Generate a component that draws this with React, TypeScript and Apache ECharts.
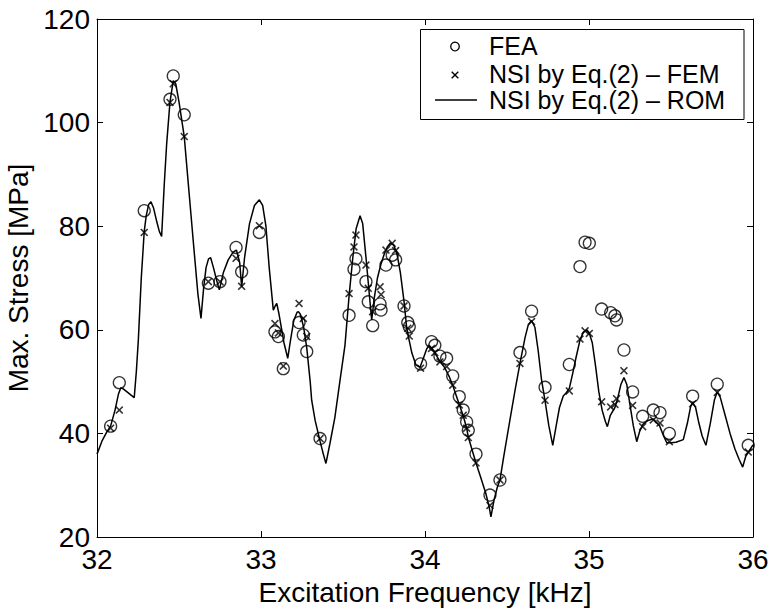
import React, { useEffect, useRef } from "react";
import * as echarts from "echarts";

// Sample frequencies (kHz) shared by FEA and FEM-based NSI results
const freqX = [
  32.083, 32.136, 32.288, 32.445, 32.465, 32.532, 32.679, 32.75, 32.848, 32.882,
  32.99, 33.085, 33.106, 33.136, 33.232, 33.258, 33.279, 33.36, 33.537, 33.567,
  33.579, 33.64, 33.654, 33.681, 33.726, 33.732, 33.762, 33.8, 33.821, 33.872,
  33.895, 33.904, 33.973, 34.04, 34.06, 34.091, 34.132, 34.169, 34.209, 34.233,
  34.254, 34.264, 34.311, 34.396, 34.457, 34.579, 34.65, 34.732, 34.88, 34.945,
  34.976, 35.002, 35.077, 35.132, 35.158, 35.168, 35.213, 35.266, 35.327, 35.392,
  35.433, 35.49, 35.632, 35.782, 35.971,
];
const feaY = [
  41.4, 49.8, 83.0, 104.5, 109.0, 101.5, 69.0, 69.3, 75.9, 71.2,
  78.8, 59.6, 58.7, 52.5, 61.4, 59.0, 55.8, 39.0, 62.8, 71.7,
  73.7, 69.3, 65.4, 60.8, 65.0, 63.8, 72.5, 74.4, 73.5, 64.6,
  61.4, 60.6, 53.4, 57.7, 57.0, 54.9, 54.5, 51.1, 47.1, 44.5,
  42.2, 40.6, 36.0, 28.1, 31.0, 55.6, 63.6, 48.9, 53.3, 72.2,
  76.9, 76.7, 64.0, 63.3, 62.7, 61.9, 56.1, 48.0, 43.3, 44.5,
  44.0, 40.0, 47.2, 49.5, 37.7,
];
const femY = [
  41.0, 44.5, 78.8, 103.9, 107.5, 97.3, 69.3, 69.3, 73.8, 68.4,
  80.1, 61.2, 59.4, 53.0, 65.1, 62.2, 58.7, 39.0, 67.0, 76.0,
  78.3, 72.5, 68.0, 63.5, 68.3, 66.8, 75.4, 76.7, 75.3, 64.6,
  60.3, 58.8, 52.6, 56.4, 55.6, 53.8, 52.9, 49.3, 45.5, 43.5,
  41.0, 39.2, 34.3, 26.1, 31.0, 53.5, 61.6, 46.4, 48.2, 58.2,
  59.8, 59.3, 46.1, 45.1, 45.6, 46.7, 52.1, 45.4, 41.3, 42.6,
  42.0, 38.4, 45.7, 47.9, 36.4,
];

// ROM curve
const romX = [
  32.0, 32.03, 32.06, 32.083, 32.11, 32.13, 32.145, 32.16, 32.227, 32.24,
  32.252, 32.27, 32.288, 32.3, 32.315, 32.329, 32.345, 32.365, 32.38, 32.394,
  32.41, 32.425, 32.445, 32.465, 32.48, 32.5, 32.532, 32.56, 32.59, 32.615,
  32.634, 32.65, 32.665, 32.68, 32.693, 32.71, 32.73, 32.746, 32.77, 32.8,
  32.83, 32.85, 32.87, 32.882, 32.9, 32.93, 32.96, 32.99, 33.01, 33.03,
  33.05, 33.075, 33.085, 33.096, 33.11, 33.14, 33.163, 33.18, 33.2, 33.22,
  33.228, 33.24, 33.26, 33.279, 33.3, 33.309, 33.33, 33.36, 33.38, 33.396,
  33.42, 33.45, 33.482, 33.512, 33.537, 33.56, 33.58, 33.604, 33.62, 33.64,
  33.66, 33.675, 33.69, 33.71, 33.73, 33.75, 33.77, 33.79, 33.81, 33.83,
  33.85, 33.872, 33.888, 33.9, 33.92, 33.945, 33.97, 33.99, 34.01, 34.025,
  34.04, 34.06, 34.09, 34.12, 34.15, 34.17, 34.21, 34.233, 34.254, 34.264,
  34.29, 34.311, 34.34, 34.37, 34.39, 34.402, 34.42, 34.44, 34.457, 34.48,
  34.52, 34.55, 34.579, 34.61, 34.63, 34.65, 34.67, 34.69, 34.71, 34.732,
  34.755, 34.779, 34.8, 34.82, 34.843, 34.86, 34.88, 34.9, 34.92, 34.945,
  34.965, 34.986, 35.0, 35.02, 35.04, 35.06, 35.08, 35.1, 35.112, 35.13,
  35.158, 35.175, 35.195, 35.213, 35.23, 35.25, 35.27, 35.291, 35.31, 35.33,
  35.36, 35.392, 35.43, 35.455, 35.474, 35.5, 35.53, 35.575, 35.6, 35.62,
  35.632, 35.65, 35.67, 35.69, 35.713, 35.74, 35.765, 35.782, 35.8, 35.83,
  35.86, 35.89, 35.915, 35.937, 35.955, 35.97, 35.99, 36.0,
];
const romY = [
  36.0, 38.5, 40.3, 41.4, 44.5, 47.5, 48.8, 48.6, 46.9, 52.0,
  58.0, 70.0, 79.0, 82.0, 84.2, 84.7, 83.5, 80.8, 79.0, 78.0,
  88.0, 96.0, 104.0, 108.1, 107.5, 104.0, 97.3, 87.0, 76.0, 67.0,
  62.2, 68.0, 72.0, 73.7, 73.9, 72.0, 69.5, 67.7, 71.0, 73.5,
  75.0, 75.4, 73.0, 68.3, 74.0, 80.5, 84.0, 85.1, 84.0, 80.0,
  72.0, 63.8, 64.5, 65.1, 63.0, 57.5, 54.5, 58.0, 61.8, 63.4,
  63.5, 63.0, 60.5, 56.5, 50.0, 46.4, 42.5, 38.5, 36.0, 34.2,
  38.0, 43.0, 50.3, 57.0, 66.5, 74.0, 79.5, 82.0, 80.5, 74.0,
  67.0, 61.9, 66.0, 70.0, 72.5, 74.5, 76.0, 76.8, 76.3, 74.5,
  71.0, 65.5, 60.5, 58.5, 55.5, 53.2, 52.8, 54.5, 56.3, 57.0,
  56.5, 55.5, 54.0, 52.7, 50.8, 49.2, 45.5, 43.4, 41.0, 39.3,
  36.5, 34.3, 31.5, 28.5, 26.0, 23.9, 27.0, 29.5, 31.0, 35.5,
  43.0, 48.5, 53.5, 58.5, 61.0, 61.8, 60.5, 56.0, 50.5, 46.3,
  41.5, 37.7, 41.5, 45.0, 47.2, 47.8, 48.7, 51.5, 54.5, 58.0,
  59.5, 60.0, 59.5, 57.5, 53.0, 48.0, 44.5, 42.3, 41.3, 43.5,
  45.0, 46.8, 49.5, 50.8, 49.5, 45.5, 41.5, 38.4, 40.5, 41.8,
  42.5, 42.8, 41.5, 39.5, 38.2, 38.2, 38.3, 38.8, 42.0, 45.2,
  46.0, 45.0, 42.0, 39.5, 37.7, 42.0, 46.5, 48.0, 47.0, 43.5,
  40.0, 37.0, 35.0, 33.5, 35.5, 36.3, 37.3, 37.8,
];

const xTicks = [32, 33, 34, 35, 36];
const yTicks = [20, 40, 60, 80, 100, 120];
const legendLabels = ["FEA", "NSI by Eq.(2) \u2013 FEM", "NSI by Eq.(2) \u2013 ROM"];

const FONT = "Liberation Sans, Arial, Helvetica, sans-serif";
const CROSS =
  "path://M0,1.4L1.4,0L5,3.6L8.6,0L10,1.4L6.4,5L10,8.6L8.6,10L5,6.4L1.4,10L0,8.6L3.6,5Z";

export default function App() {
  const ref = useRef<HTMLDivElement>(null);
  useEffect(() => {
    document.body.style.margin = "0";
    if (!ref.current) return;
    const chart = echarts.init(ref.current, undefined, { renderer: "svg" });
    const axisLine = { show: true, lineStyle: { color: "#000", width: 1 } };
    const tick = { show: true, inside: true, length: 6, lineStyle: { color: "#000", width: 1 } };
    const label = { color: "#000", fontSize: 28, fontFamily: FONT };
    const fea = freqX.map((x, i) => [x, feaY[i]]);
    const fem = freqX.map((x, i) => [x, femY[i]]);
    const rom = romX.map((x, i) => [x, romY[i]]);
    const lx = 420.5, ly = 29.5;
    chart.setOption({
      animation: false,
      backgroundColor: "#fff",
      grid: {
        left: 97, right: 19, top: 19, bottom: 73, show: false,
        containLabel: false, outerBoundsMode: "none",
      },
      xAxis: [
        {
          type: "value", min: xTicks[0], max: xTicks[xTicks.length - 1], interval: 1,
          position: "bottom", axisLine, axisTick: tick, splitLine: { show: false },
          axisLabel: { ...label, margin: 8 },
          name: "Excitation Frequency [kHz]", nameLocation: "middle", nameGap: 41,
          nameTextStyle: { color: "#000", fontSize: 28, fontFamily: FONT },
        },
        {
          type: "value", min: xTicks[0], max: xTicks[xTicks.length - 1], interval: 1,
          position: "top", axisLine, axisTick: tick, axisLabel: { show: false },
          splitLine: { show: false },
        },
      ],
      yAxis: [
        {
          type: "value", min: yTicks[0], max: yTicks[yTicks.length - 1], interval: 20,
          position: "left", axisLine, axisTick: tick, splitLine: { show: false },
          axisLabel: { ...label, margin: 7 },
          name: "Max. Stress [MPa]", nameLocation: "middle", nameGap: 58,
          nameTextStyle: { color: "#000", fontSize: 28, fontFamily: FONT },
        },
        {
          type: "value", min: yTicks[0], max: yTicks[yTicks.length - 1], interval: 20,
          position: "right", axisLine, axisTick: tick, axisLabel: { show: false },
          splitLine: { show: false },
        },
      ],
      series: [
        {
          name: legendLabels[2], type: "line", data: rom, symbol: "none",
          lineStyle: { color: "#000", width: 1.5 }, z: 2, clip: true,
        },
        {
          name: legendLabels[0], type: "scatter", data: fea, symbol: "circle", symbolSize: 12,
          itemStyle: { color: "rgba(0,0,0,0)", borderColor: "#000", borderWidth: 1.3 }, z: 3,
        },
        {
          name: legendLabels[1], type: "scatter", data: fem, symbol: CROSS, symbolSize: 8,
          itemStyle: { color: "#000" }, z: 4,
        },
      ],
      graphic: [
        {
          type: "group", z: 100,
          children: [
            { type: "rect", shape: { x: lx, y: ly, width: 323.5, height: 90 },
              style: { fill: "#fff", stroke: "#000", lineWidth: 1 } },
            { type: "circle", shape: { cx: 455, cy: 46.5, r: 4.3 },
              style: { fill: "none", stroke: "#000", lineWidth: 1.3 } },
            { type: "line", shape: { x1: 451.7, y1: 71.7, x2: 458.3, y2: 78.3 },
              style: { stroke: "#000", lineWidth: 1.4 } },
            { type: "line", shape: { x1: 458.3, y1: 71.7, x2: 451.7, y2: 78.3 },
              style: { stroke: "#000", lineWidth: 1.4 } },
            { type: "line", shape: { x1: 435, y1: 100, x2: 477, y2: 100 },
              style: { stroke: "#000", lineWidth: 1.5 } },
            ...legendLabels.map((t, i) => ({
              type: "text", x: 489, y: [46, 74, 100][i],
              style: { text: t, fill: "#000", font: `25px ${FONT}`, verticalAlign: "middle", align: "left" },
            })),
          ],
        },
      ],
    });
    return () => chart.dispose();
  }, []);
  return <div ref={ref} style={{ position: "fixed", left: 0, top: 0, width: 772, height: 610 }} />;
}
